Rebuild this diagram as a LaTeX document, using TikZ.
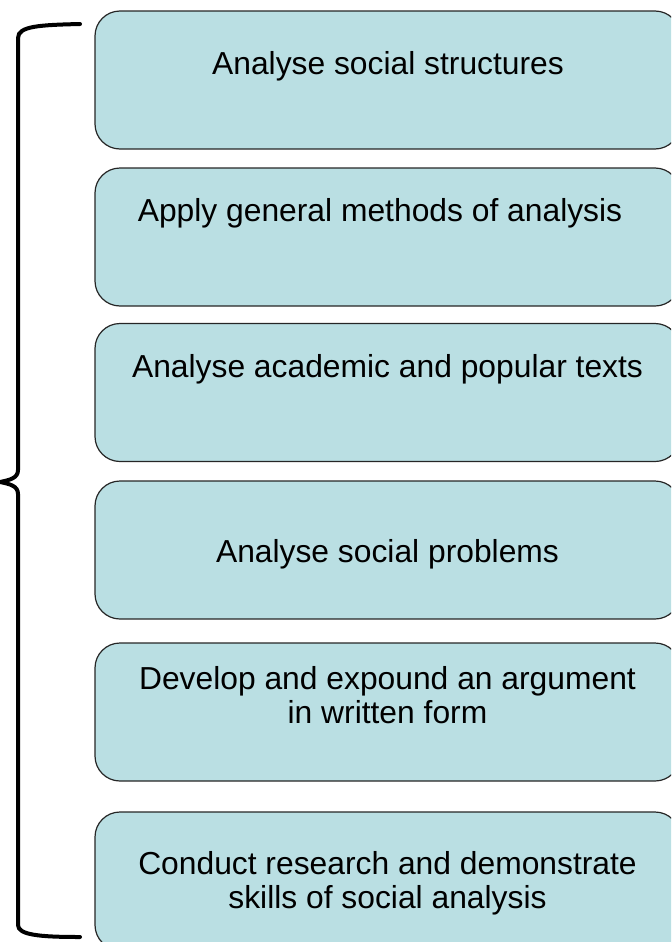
\documentclass[tikz,border=0pt]{standalone}
\usepackage{fontspec}
\setmainfont{Liberation Sans}
\usepackage{tikz}
\usetikzlibrary{positioning}
\definecolor{boxfill}{RGB}{186,223,227}

\begin{document}
\begin{tikzpicture}[x=0.5pt,y=-0.5pt,
    stagebox/.style={draw=black!85,fill=boxfill,rounded corners=12.5pt,line width=0.6pt,
      minimum width=292.5pt,minimum height=69pt,inner sep=0pt},
    stagetext/.style={anchor=base,align=center,inner sep=0pt,
      font=\fontsize{15.9}{16.8}\selectfont}]
  \useasboundingbox (0,0) rectangle (671,942);
  \begin{scope}
  \clip (0,0) rectangle (671,942);
  \node[stagebox] (s1) at (387.5,80) {};
  \node[stagebox] (s2) at (387.5,237) {};
  \node[stagebox] (s3) at (387.5,392.5) {};
  \node[stagebox] (s4) at (387.5,550) {};
  \node[stagebox] (s5) at (387.5,712) {};
  \node[stagebox] (s6) at (387.5,881) {};
  \end{scope}

  \node[stagetext] (t1) at (388,74) {Analyse social structures};
  \node[stagetext] (t2) at (380,221) {Apply general methods of analysis};
  \node[stagetext] (t3) at (387.5,377) {Analyse academic and popular texts};
  \node[stagetext] (t4) at (387.5,562) {Analyse social problems};
  \node[stagetext] (t5) at (387.5,723) {Develop and expound an argument\\in written form};
  \node[stagetext] (t6) at (387.5,908) {Conduct research and demonstrate\\skills of social analysis};

  % the brace on the left
  \draw[line width=2pt,line cap=round]
    (80,24) .. controls (40,25) and (18,26) .. (18,38) -- (18,470)
    .. controls (18,478) and (10,480) .. (0,482)
    .. controls (10,484) and (18,486) .. (18,494) -- (18,925)
    .. controls (18,935) and (40,937) .. (80,937);
\end{tikzpicture}
\end{document}
